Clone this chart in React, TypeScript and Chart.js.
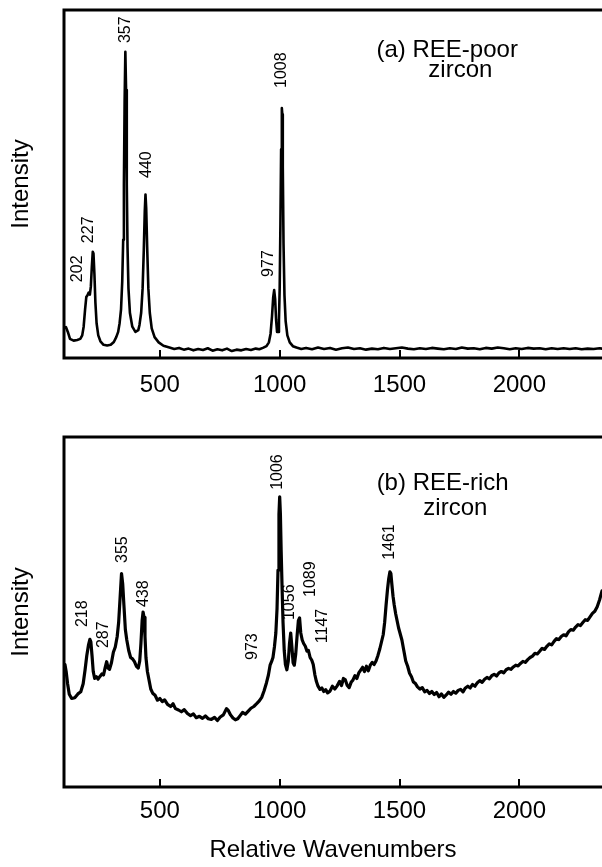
import React, { useEffect, useRef } from 'react';
import { Chart, registerables } from 'chart.js';

Chart.register(...registerables);

const FONT = '"Liberation Sans", Arial, Helvetica, sans-serif';

// ---- axis ----
const tickValues = [500, 1000, 1500, 2000];
const xMin = 100;
const xMax = 2345;
const xTitle = 'Relative Wavenumbers';
const yTitle = 'Intensity';

// ---- (a) REE-poor zircon ----
const waveA = [
  100, 108, 116, 125, 140, 155, 168, 176, 182, 188, 193, 198, 203, 208, 212, 216, 220, 223, 227, 231,
  236, 243, 252, 265, 280, 295, 308, 318, 326, 332, 338, 343, 347, 350, 353, 356, 359, 362, 365, 369,
  375, 385, 398, 410, 415, 422, 428, 433, 437, 440, 443, 447, 452, 458, 466, 478, 495, 515, 540, 560,
  580, 600, 620, 640, 660, 680, 700, 720, 740, 760, 780, 800, 820, 840, 860, 880, 900, 915, 930, 945,
  955, 962, 968, 973, 977, 981, 985, 989, 993, 997, 1000, 1003, 1006, 1009, 1011, 1013, 1016, 1020, 1025, 1032,
  1042, 1055, 1070, 1090, 1110, 1135, 1160, 1185, 1210, 1235, 1260, 1285, 1310, 1335, 1360, 1385, 1410, 1435, 1460, 1485,
  1510, 1535, 1560, 1585, 1610, 1635, 1660, 1685, 1710, 1735, 1760, 1785, 1810, 1835, 1860, 1885, 1910, 1935, 1960, 1985,
  2010, 2035, 2060, 2085, 2110, 2135, 2160, 2185, 2210, 2235, 2260, 2285, 2310, 2335, 2345,
];
const intensityA = [
  8.6, 8.9, 7.5, 5.5, 5.0, 5.2, 5.5, 6.5, 9.0, 14, 17.5, 18.0, 18.8, 18.2, 20.5, 26, 30.5, 30.0, 24, 16,
  10, 6.5, 4.8, 3.8, 3.6, 3.8, 4.6, 6.0, 7.5, 10, 14, 22, 34, 50, 74, 88, 77, 50, 32, 20,
  13, 9, 7.5, 8, 9.5, 13, 20, 31, 42, 47, 43, 32, 20, 13, 8.5, 6, 4.5, 3.5, 3.0, 2.6,
  2.9, 2.4, 2.7, 2.2, 2.6, 2.3, 2.8, 2.1, 2.5, 2.2, 2.7, 2.0, 2.4, 2.2, 2.6, 2.3, 2.7, 2.5, 2.9, 3.4,
  4.5, 7, 12, 17.5, 19.5, 17, 11, 7.5, 7.5, 11, 20, 38, 60, 71.8, 70, 55, 33, 18, 10.5, 6.5,
  4.5, 3.4, 3.0, 2.6, 2.9, 2.5, 3.0, 2.6, 2.9, 2.4, 2.8, 3.0, 2.6, 2.8, 2.4, 2.7, 2.5, 2.9, 2.6, 2.8,
  3.0, 2.7, 2.5, 2.8, 2.6, 2.9, 2.7, 2.5, 2.8, 2.6, 3.0, 2.7, 2.8, 2.5, 2.9, 2.7, 3.0, 2.8, 2.5, 2.8,
  2.6, 2.9, 2.7, 2.8, 2.5, 2.8, 2.6, 2.8, 2.6, 2.8, 2.5, 2.7, 2.6, 2.8, 2.7,
];
const peakTextA = ['202', '227', '357', '440', '977', '1008'];
const peakWaveA = [157, 203, 356, 446, 955, 1010];
const peakLevelA = [21.8, 33.0, 90.5, 51.7, 23.3, 77.6];
const panelTextA = ['(a) REE-poor', 'zircon'];
const panelWaveA = [1699, 1754];
const panelLevelA = [86.5, 80.7];

// ---- (b) REE-rich zircon ----
const waveB = [
  100, 104, 109, 115, 122, 132, 145, 158, 170, 180, 188, 195, 202, 208, 212, 217, 222, 228, 235, 242,
  250, 258, 265, 272, 278, 284, 290, 298, 306, 314, 322, 328, 334, 340, 345, 350, 356, 362, 370, 378,
  386, 394, 402, 410, 416, 421, 426, 430, 434, 438, 442, 448, 455, 462, 470, 480, 490, 500, 510, 520,
  532, 545, 555, 565, 578, 590, 602, 615, 628, 640, 652, 665, 678, 690, 702, 715, 728, 740, 752, 765,
  778, 786, 795, 805, 815, 825, 835, 845, 857, 868, 880, 892, 904, 915, 925, 935, 945, 953, 960, 966,
  972, 978, 984, 989, 993, 997, 1000, 1003, 1006, 1010, 1014, 1019, 1024, 1030, 1036, 1041, 1046, 1051, 1056, 1061,
  1067, 1073, 1078, 1083, 1088, 1094, 1100, 1107, 1114, 1120, 1127, 1134, 1140, 1147, 1153, 1160, 1168, 1176, 1184, 1192,
  1200, 1210, 1220, 1230, 1240, 1250, 1258, 1266, 1274, 1282, 1290, 1298, 1306, 1314, 1322, 1330, 1338, 1346, 1354, 1362,
  1370, 1378, 1386, 1394, 1402, 1410, 1418, 1425, 1432, 1438, 1444, 1450, 1455, 1460, 1464, 1468, 1473, 1478, 1484, 1490,
  1496, 1502, 1510, 1518, 1526, 1534, 1542, 1550, 1558, 1566, 1575, 1585, 1595, 1605, 1615, 1625, 1635, 1645, 1655, 1665,
  1675, 1685, 1695, 1705, 1715, 1725, 1735, 1745, 1755, 1765, 1775, 1785, 1795, 1805, 1815, 1825, 1835, 1845, 1855, 1865,
  1875, 1885, 1895, 1905, 1915, 1925, 1935, 1945, 1955, 1965, 1975, 1985, 1995, 2005, 2015, 2025, 2035, 2045, 2055, 2065,
  2075, 2085, 2095, 2105, 2115, 2125, 2135, 2145, 2155, 2165, 2175, 2185, 2195, 2205, 2215, 2225, 2235, 2245, 2255, 2265,
  2275, 2285, 2295, 2305, 2315, 2325, 2335, 2345,
];
const intensityB = [
  33.4, 35.0, 33.0, 29.5, 26.5, 25.3, 25.5, 26.6, 27.2, 29.5, 33.5, 37.5, 40.5, 42.2, 41.5, 37.5, 33.0, 31.0, 31.5, 30.8,
  31.6, 32.3, 32.0, 34.2, 35.8, 34.0, 33.6, 35.5, 38.5, 40.0, 43.0, 47.0, 54.0, 61.0, 58.0, 52.0, 45.0, 42.0, 39.0, 37.0,
  36.6, 35.8, 34.5, 34.0, 36.0, 41.0, 47.5, 50.0, 48.5, 43.0, 37.0, 33.0, 30.5, 28.0, 26.8, 26.2, 24.8, 25.3, 24.4, 24.9,
  23.6, 23.0, 23.8, 22.4, 22.0, 21.5, 22.1, 21.0, 20.4, 20.9, 19.8, 20.2, 19.6, 20.3, 19.5, 19.3, 19.9, 19.0, 20.0, 20.6,
  22.4, 21.8, 20.6, 19.7, 19.2, 19.5, 20.4, 21.3, 20.8, 21.6, 22.5, 23.0, 23.8, 24.6, 25.6, 27.5, 29.8, 32.0, 34.8, 35.8,
  37.0, 40.0, 44.0, 51.0, 62.0, 78.0, 82.9, 78.0, 68.0, 57.0, 47.0, 39.0, 35.0, 33.5, 36.0, 41.0, 44.0, 40.0, 35.5, 34.8,
  38.0, 43.5, 47.5, 48.3, 44.0, 42.0, 41.0, 40.2, 38.8, 39.0, 37.0, 36.2, 35.0, 32.0, 30.2, 28.8, 27.9, 28.3, 27.3, 27.8,
  26.9, 27.4, 28.8, 28.0, 28.9, 30.2, 29.0, 31.0, 30.6, 29.0, 28.4, 29.9, 30.6, 31.8, 31.0, 32.6, 33.4, 34.2, 33.0, 34.5,
  33.2, 34.8, 35.6, 35.0, 36.0, 37.6, 39.5, 41.5, 43.5, 47.0, 52.0, 56.5, 59.5, 61.5, 61.0, 58.0, 54.5, 52.0, 49.5, 47.5,
  45.5, 44.0, 42.0, 39.0, 36.0, 34.5, 32.5, 31.5, 30.0, 29.6, 28.6, 28.0, 28.4, 27.2, 27.6, 26.7, 27.3, 26.4, 27.0, 25.8,
  26.6, 25.6, 26.3, 27.1, 26.5, 27.3, 26.8, 27.6, 27.9, 27.2, 28.3, 28.8, 28.3, 29.3, 28.8, 29.8, 30.4, 29.9, 30.8, 31.3,
  30.9, 31.8, 32.2, 31.7, 32.6, 33.0, 32.6, 33.5, 33.9, 33.6, 34.3, 34.8, 34.6, 35.3, 35.9, 35.6, 36.4, 37.0, 37.4, 38.2,
  38.0, 38.8, 39.6, 39.3, 40.2, 40.9, 40.6, 41.6, 42.4, 42.1, 43.0, 43.5, 43.2, 44.3, 45.0, 44.8, 45.7, 46.4, 46.1, 47.0,
  47.8, 47.6, 48.6, 49.6, 50.2, 51.5, 53.5, 56.0,
];
const peakTextB = ['218', '287', '355', '438', '973', '1006', '1056', '1089', '1147', '1461'];
const peakWaveB = [178, 266, 345, 433, 889, 993, 1043, 1127, 1177, 1457];
const peakLevelB = [45.7, 39.7, 64.0, 51.4, 36.3, 84.9, 47.7, 54.3, 41.1, 64.9];
const panelTextB = ['(b) REE-rich', 'zircon'];
const panelWaveB = [1680, 1733];
const panelLevelB = [84.9, 77.7];

type PanelCfg = {
  waves: number[];
  values: number[];
  peakText: string[];
  peakWave: number[];
  peakLevel: number[];
  panelText: string[];
  panelWave: number[];
  panelLevel: number[];
  showXTitle: boolean;
  height: number;
  padTop: number;
  xAxisHeight: number;
  tickPad: number;
  lineWidth: number;
};

function makeDecor(cfg: PanelCfg) {
  return {
    id: 'decor',
    afterDatasetsDraw(chart: any) {
      const { ctx, chartArea: a, scales } = chart;
      const xs = scales.x;
      const ys = scales.y;
      ctx.save();
      ctx.strokeStyle = '#000';
      ctx.lineWidth = 3;
      ctx.lineCap = 'square';
      ctx.beginPath();
      ctx.moveTo(a.right + 3, a.top);
      ctx.lineTo(a.left, a.top);
      ctx.lineTo(a.left, a.bottom);
      ctx.lineTo(a.right + 3, a.bottom);
      ctx.stroke();
      ctx.lineWidth = 2;
      ctx.lineCap = 'butt';
      for (const t of tickValues) {
        const px = Math.round(xs.getPixelForValue(t));
        ctx.beginPath();
        ctx.moveTo(px, a.bottom);
        ctx.lineTo(px, a.bottom - 8);
        ctx.stroke();
      }
      ctx.fillStyle = '#000';
      ctx.font = `16px ${FONT}`;
      ctx.textAlign = 'left';
      ctx.textBaseline = 'middle';
      cfg.peakText.forEach((txt, i) => {
        const px = xs.getPixelForValue(cfg.peakWave[i]);
        const py = ys.getPixelForValue(cfg.peakLevel[i]);
        ctx.save();
        ctx.translate(px, py);
        ctx.rotate(-Math.PI / 2);
        ctx.fillText(txt, 0, 0);
        ctx.restore();
      });
      ctx.font = `24px ${FONT}`;
      ctx.textAlign = 'center';
      ctx.textBaseline = 'alphabetic';
      cfg.panelText.forEach((txt, i) => {
        ctx.fillText(txt, xs.getPixelForValue(cfg.panelWave[i]), ys.getPixelForValue(cfg.panelLevel[i]));
      });
      ctx.restore();
    },
  };
}

function Panel({ cfg }: { cfg: PanelCfg }) {
  const ref = useRef<HTMLCanvasElement | null>(null);
  useEffect(() => {
    if (!ref.current) return;
    const chart = new Chart(ref.current, {
      type: 'line',
      data: {
        datasets: [
          {
            data: cfg.waves.map((w, i) => ({ x: w, y: cfg.values[i] })),
            borderColor: '#000',
            borderWidth: cfg.lineWidth,
            borderJoinStyle: 'round',
            borderCapStyle: 'round',
            pointRadius: 0,
            tension: 0,
            fill: false,
          },
        ],
      },
      options: {
        responsive: false,
        animation: false,
        events: [],
        layout: { padding: { top: cfg.padTop, left: 0, right: 0, bottom: 0 } },
        plugins: { legend: { display: false }, tooltip: { enabled: false } },
        scales: {
          x: {
            type: 'linear',
            min: xMin,
            max: xMax,
            afterBuildTicks: (s: any) => {
              s.ticks = tickValues.map((v) => ({ value: v }));
            },
            afterFit: (s: any) => {
              s.height = cfg.xAxisHeight;
            },
            ticks: {
              font: { family: FONT, size: 24 },
              color: '#000',
              padding: cfg.tickPad,
              maxRotation: 0,
              autoSkip: false,
              callback: (v: any) => String(v),
            },
            grid: { display: false, drawTicks: false },
            border: { display: false },
            title: {
              display: cfg.showXTitle,
              text: xTitle,
              color: '#000',
              font: { family: FONT, size: 24 },
              padding: { top: 0, bottom: 2 },
            },
          },
          y: {
            type: 'linear',
            min: 0,
            max: 100,
            afterFit: (s: any) => {
              s.width = 64;
            },
            ticks: { display: false },
            grid: { display: false, drawTicks: false },
            border: { display: false },
            title: {
              display: true,
              text: yTitle,
              color: '#000',
              font: { family: FONT, size: 24 },
              padding: { top: 7, bottom: 0 },
            },
          },
        },
      },
      plugins: [makeDecor(cfg)],
    } as any);
    return () => chart.destroy();
  }, [cfg]);
  return (
    <canvas
      ref={ref}
      width={602}
      height={cfg.height}
      style={{ display: 'block', width: 602, height: cfg.height }}
    />
  );
}

const cfgA: PanelCfg = {
  waves: waveA,
  values: intensityA,
  peakText: peakTextA,
  peakWave: peakWaveA,
  peakLevel: peakLevelA,
  panelText: panelTextA,
  panelWave: panelWaveA,
  panelLevel: panelLevelA,
  showXTitle: false,
  height: 400,
  padTop: 10,
  xAxisHeight: 42,
  tickPad: 13,
  lineWidth: 2.6,
};

const cfgB: PanelCfg = {
  waves: waveB,
  values: intensityB,
  peakText: peakTextB,
  peakWave: peakWaveB,
  peakLevel: peakLevelB,
  panelText: panelTextB,
  panelWave: panelWaveB,
  panelLevel: panelLevelB,
  showXTitle: true,
  height: 447,
  padTop: 17,
  xAxisHeight: 80,
  tickPad: 10,
  lineWidth: 3.2,
};

export default function App() {
  return (
    <div
      style={{
        position: 'absolute',
        left: 0,
        top: 0,
        width: 602,
        height: 867,
        overflow: 'hidden',
        background: '#fff',
      }}
    >
      <div style={{ position: 'absolute', left: 0, top: 0 }}>
        <Panel cfg={cfgA} />
      </div>
      <div style={{ position: 'absolute', left: 0, top: 420 }}>
        <Panel cfg={cfgB} />
      </div>
    </div>
  );
}
